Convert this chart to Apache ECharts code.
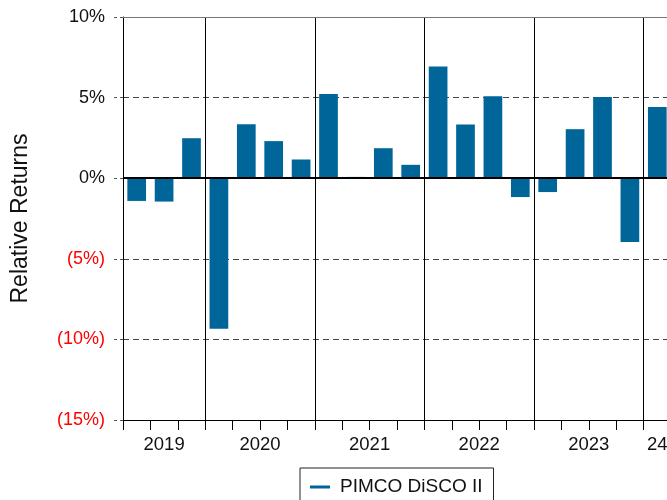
<!DOCTYPE html>
<html>
<head>
<meta charset="utf-8">
<script src="https://cdn.jsdelivr.net/npm/echarts@6/dist/echarts.min.js"></script>
<style>
html,body{margin:0;padding:0;background:#fff;}
#chart{width:667px;height:500px;}
</style>
</head>
<body>
<div id="chart"></div>
<script>
// ---- data ----
const quarters = ['2019 Q2','2019 Q3','2019 Q4',
  '2020 Q1','2020 Q2','2020 Q3','2020 Q4',
  '2021 Q1','2021 Q2','2021 Q3','2021 Q4',
  '2022 Q1','2022 Q2','2022 Q3','2022 Q4',
  '2023 Q1','2023 Q2','2023 Q3','2023 Q4',
  '2024 Q1'];
const relativeReturns = [-1.41, -1.45, 2.48,
  -9.34, 3.35, 2.30, 1.16,
  5.23, 0.08, 1.86, 0.83,
  6.93, 3.33, 5.09, -1.17,
  -0.86, 3.04, 5.03, -3.96,
  4.41];
const yearLabels = ['2019','2020','2021','2022','2023','24'];
const quartersPerYear = [3, 4, 4, 4, 4, 1];
const seriesName = 'PIMCO DiSCO II';
const yMin = -15, yMax = 10, yStep = 5;

// ---- derived: year label centres in category units ----
const yearCenters = [];
let acc = 0;
quartersPerYear.forEach(n => { yearCenters.push(acc + n / 2); acc += n; });

const FONT = '"Liberation Sans", Arial, sans-serif';
const chart = echarts.init(document.getElementById('chart'), null, {renderer: 'canvas'});

const option = {
  animation: false,
  backgroundColor: '#fff',
  grid: {left: 123, top: 17, height: 403, width: 548, containLabel: false, outerBoundsMode: 'none'},
  legend: {
    data: [seriesName],
    left: 300, top: 468,
    padding: [8, 11, 8, 10],
    borderColor: '#222', borderWidth: 1,
    icon: 'rect', itemWidth: 20, itemHeight: 3,
    textStyle: {fontFamily: FONT, fontSize: 19, color: '#111', lineHeight: 22, padding: [0, 0, 0, 5]}
  },
  xAxis: [
    {
      type: 'category', data: quarters, boundaryGap: true,
      axisLine: {show: true, onZero: false, lineStyle: {color: '#000', width: 1}},
      axisTick: {show: true, interval: 0, length: 10, lineStyle: {color: '#000', width: 1}},
      axisLabel: {show: false},
      splitLine: {show: true, interval: (i, v) => /Q1$/.test(v), lineStyle: {color: '#000', width: 1, type: 'solid'}}
    },
    {
      type: 'value', min: 0, max: quarters.length, position: 'bottom',
      axisLine: {show: false, onZero: false}, axisTick: {show: false}, splitLine: {show: false},
      axisLabel: {
        customValues: yearCenters,
        formatter: v => { const k = yearCenters.findIndex(c => Math.abs(c - v) < 1e-6); return k >= 0 ? yearLabels[k] : ''; },
        fontFamily: FONT, fontSize: 18.5, color: '#111', margin: 15
      }
    }
  ],
  yAxis: {
    type: 'value', min: yMin, max: yMax, interval: yStep,
    name: 'Relative Returns', nameLocation: 'middle', nameRotate: 90, nameGap: 91,
    nameTextStyle: {fontFamily: FONT, fontSize: 23, color: '#111'},
    axisLine: {show: true, lineStyle: {color: '#000', width: 1}},
    axisTick: {show: true, length: 10, lineStyle: {color: '#555', type: [3, 3]}},
    axisLabel: {
      fontFamily: FONT, fontSize: 18, margin: 18,
      formatter: v => v < 0 ? '(' + (-v) + '%)' : v + '%',
      color: v => (Number(v) < 0 ? '#ff0000' : '#111')
    },
    splitLine: {show: true, lineStyle: {color: '#444', width: 1, type: [6, 4]}}
  },
  series: [{
    name: seriesName, type: 'bar', xAxisIndex: 0,
    data: relativeReturns, barWidth: 18.7,
    itemStyle: {color: '#006599'},
    markLine: {
      silent: true, symbol: 'none', label: {show: false}, z: 5,
      data: [
        {yAxis: 0, lineStyle: {color: '#000', width: 2, type: 'solid'}},
        {yAxis: yMax, lineStyle: {color: '#777', width: 1, type: 'solid'}}
      ]
    }
  }]
};
chart.setOption(option);
</script>
</body>
</html>
